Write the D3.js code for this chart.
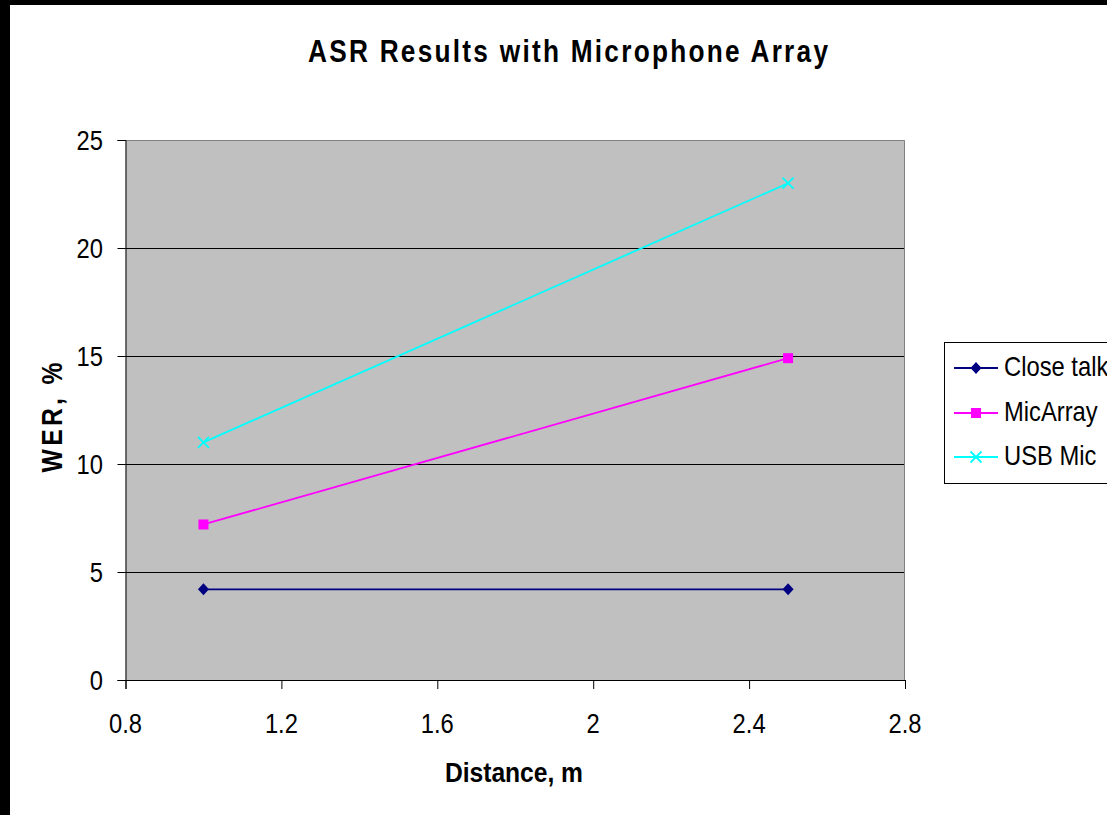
<!DOCTYPE html>
<html>
<head>
<meta charset="utf-8">
<script src="https://cdn.jsdelivr.net/npm/d3@7"></script>
<style>
  html, body { margin: 0; padding: 0; background: #fff; }
  svg { display: block; }
  text { font-family: "Liberation Sans", Arial, sans-serif; fill: #000; }
</style>
</head>
<body>
<svg id="chart" width="1107" height="815"></svg>
<script>
// Word error rate by speaker distance for three microphone setups
const distances = [1.0, 2.5];
const closeTalk = [4.2, 4.2];
const micArray = [7.2, 14.9];
const usbMic = [11.0, 23.0];

const seriesNames = ["Close talk", "MicArray", "USB Mic"];
const xTicks = [0.8, 1.2, 1.6, 2, 2.4, 2.8];
const yTicks = [0, 5, 10, 15, 20, 25];

const chartTitle = "ASR Results with Microphone Array";
const xTitle = "Distance, m";
const yTitle = "WER, %";

const svg = d3.select("#chart");
const W = 1107, H = 815;

// frame: black strip on the left and top edges
svg.append("rect").attr("x", 0).attr("y", 0).attr("width", W).attr("height", H).attr("fill", "#000");
svg.append("rect").attr("x", 10).attr("y", 5).attr("width", W - 10).attr("height", H - 5).attr("fill", "#fff");

const plot = { left: 125.5, right: 905, top: 140, bottom: 680 };

const x = d3.scaleLinear().domain([0.8, 2.8]).range([plot.left, plot.right]);
const y = d3.scaleLinear().domain([0, 25]).range([plot.bottom, plot.top]);

// horizontally condensed text helper
function label(parent, str, px, py, o) {
  const t = parent.append("text")
    .text(str)
    .attr("x", 0).attr("y", 0)
    .attr("font-size", o.size)
    .attr("font-weight", o.bold ? "bold" : "normal")
    .attr("text-anchor", o.anchor || "start")
    .attr("transform", `translate(${px},${py})` + (o.rotate ? ` rotate(${o.rotate})` : "") + ` scale(${o.sx || 1},1)`);
  if (o.width) t.attr("textLength", o.width / (o.sx || 1)).attr("lengthAdjust", "spacing");
  return t;
}

// plot background
svg.append("rect")
  .attr("x", plot.left).attr("y", plot.top)
  .attr("width", plot.right - plot.left).attr("height", plot.bottom - plot.top)
  .attr("fill", "#c0c0c0");

// gridlines
svg.append("g").selectAll("line")
  .data(yTicks.filter(v => v > 0 && v < 25))
  .join("line")
  .attr("x1", plot.left).attr("x2", plot.right)
  .attr("y1", d => Math.round(y(d)) + 0.5).attr("y2", d => Math.round(y(d)) + 0.5)
  .attr("stroke", "#000").attr("stroke-width", 1);

// top and right border of plot area
svg.append("path")
  .attr("d", `M${plot.left},${plot.top + 0.5}H${plot.right - 0.5}V${plot.bottom}`)
  .attr("fill", "none").attr("stroke", "#808080").attr("stroke-width", 1);

// axes
const yAxis = d3.axisLeft(y).tickValues(yTicks).tickSize(8).tickFormat(d3.format("d"));
const gy = svg.append("g").attr("transform", `translate(${plot.left},0)`).call(yAxis);
const xAxis = d3.axisBottom(x).tickValues(xTicks).tickSize(9).tickFormat(d => String(d));
const gx = svg.append("g").attr("transform", `translate(0,${plot.bottom})`).call(xAxis);

[gx, gy].forEach(g => {
  g.select(".domain").attr("stroke", "#000").attr("stroke-width", 1);
  g.selectAll(".tick line").attr("stroke", "#000");
  g.selectAll(".tick text").remove();
});

// tick labels
yTicks.forEach(v => label(svg, String(v), 103, y(v) + 9.5, { size: 27, sx: 0.88, anchor: "end" }));
xTicks.forEach(v => label(svg, String(v), x(v), 733, { size: 27, sx: 0.88, anchor: "middle" }));

// titles
label(svg, chartTitle, 568, 62, { size: 32, bold: true, sx: 0.82, anchor: "middle", width: 520 });
label(svg, xTitle, 514, 782, { size: 28, bold: true, sx: 0.88, anchor: "middle", width: 138 });
label(svg, yTitle, 62, 417.5, { size: 29, bold: true, sx: 0.85, anchor: "middle", rotate: -90, width: 110 });

// series
const series = [
  { name: seriesNames[0], values: closeTalk, color: "#000080", marker: "diamond" },
  { name: seriesNames[1], values: micArray, color: "#ff00ff", marker: "square" },
  { name: seriesNames[2], values: usbMic, color: "#00ffff", marker: "cross" }
];

function drawMarker(g, type, cx, cy, color) {
  if (type === "diamond") {
    g.append("path").attr("d", `M${cx},${cy - 6}L${cx + 5.5},${cy}L${cx},${cy + 6}L${cx - 5.5},${cy}Z`).attr("fill", color);
  } else if (type === "square") {
    g.append("rect").attr("x", cx - 5).attr("y", cy - 5).attr("width", 10).attr("height", 10).attr("fill", color);
  } else {
    g.append("path").attr("d", `M${cx - 5.5},${cy - 5.5}L${cx + 5.5},${cy + 5.5}M${cx - 5.5},${cy + 5.5}L${cx + 5.5},${cy - 5.5}`)
      .attr("stroke", color).attr("stroke-width", 1.8).attr("fill", "none");
  }
}

const line = d3.line().x(d => x(d[0])).y(d => y(d[1]));
series.forEach(s => {
  const pts = distances.map((d, i) => [d, s.values[i]]);
  const g = svg.append("g");
  g.append("path").attr("d", line(pts)).attr("fill", "none").attr("stroke", s.color).attr("stroke-width", 1.8);
  pts.forEach(p => drawMarker(g, s.marker, x(p[0]), y(p[1]), s.color));
});

// legend
const legend = svg.append("g");
legend.append("rect")
  .attr("x", 944.5).attr("y", 342.5).attr("width", 200).attr("height", 141)
  .attr("fill", "#fff").attr("stroke", "#000").attr("stroke-width", 1);
const rowY = [368, 413, 457];
series.forEach((s, i) => {
  const cy = rowY[i];
  legend.append("line").attr("x1", 954).attr("x2", 998).attr("y1", cy).attr("y2", cy)
    .attr("stroke", s.color).attr("stroke-width", 1.8);
  drawMarker(legend, s.marker, 976, cy, s.color);
  label(legend, s.name, 1004, cy + 8, { size: 27, sx: 0.88 });
});
</script>
</body>
</html>
